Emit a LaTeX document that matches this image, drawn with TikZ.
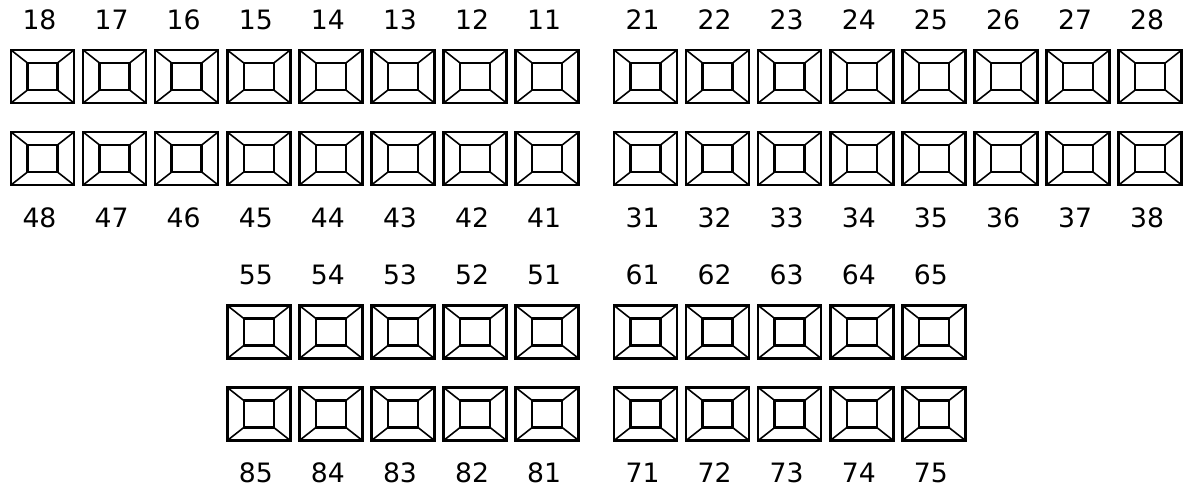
\documentclass[tikz,border=0pt]{standalone}
\usepackage{fontspec}
\setmainfont{DejaVu Sans}
\usetikzlibrary{positioning}

\tikzset{
  tooth/.style={draw,rectangle,line width=1.9pt,inner sep=0pt,
    minimum width=47.25pt,minimum height=39.75pt,
    path picture={
      \draw[line width=1.9pt,shift={(path picture bounding box.center)}]
        (-15,-13.5) rectangle (15,13.5);
      \draw[line width=1.2pt,shift={(path picture bounding box.center)}]
        (-31.5,-26.5) -- (-15,-13.5) (31.5,-26.5) -- (15,-13.5)
        (-31.5,26.5) -- (-15,13.5) (31.5,26.5) -- (15,13.5);
    }},
  num/.style={inner sep=0pt,font=\fontsize{20}{22}\selectfont}
}

\begin{document}
\begin{tikzpicture}[x=0.75pt,y=-0.75pt]
\useasboundingbox (0,0) rectangle (1186,489);
% upper jaw
\foreach \n [count=\i from 0] in {18,17,16,15,14,13,12,11} {
  \node[tooth] (t\n) at (42.5+72.1*\i,76.5) {};
  \node[num] (l\n) at (39.5+72.1*\i,19.5) {\n};
}
\foreach \n [count=\i from 0] in {21,22,23,24,25,26,27,28} {
  \node[tooth] (t\n) at (645.5+72.1*\i,76.5) {};
  \node[num] (l\n) at (642.5+72.1*\i,19.5) {\n};
}
% lower jaw
\foreach \n [count=\i from 0] in {48,47,46,45,44,43,42,41} {
  \node[tooth] (t\n) at (42.5+72.1*\i,158.5) {};
  \node[num] (l\n) at (39.5+72.1*\i,218) {\n};
}
\foreach \n [count=\i from 0] in {31,32,33,34,35,36,37,38} {
  \node[tooth] (t\n) at (645.5+72.1*\i,158.5) {};
  \node[num] (l\n) at (642.5+72.1*\i,218) {\n};
}
% milk teeth
\foreach \n [count=\i from 3] in {55,54,53,52,51} {
  \node[tooth] (t\n) at (42.5+72.1*\i,332) {};
  \node[num] (l\n) at (39.5+72.1*\i,275) {\n};
}
\foreach \n [count=\i from 0] in {61,62,63,64,65} {
  \node[tooth] (t\n) at (645.5+72.1*\i,332) {};
  \node[num] (l\n) at (642.5+72.1*\i,275) {\n};
}
\foreach \n [count=\i from 3] in {85,84,83,82,81} {
  \node[tooth] (t\n) at (42.5+72.1*\i,414) {};
  \node[num] (l\n) at (39.5+72.1*\i,473) {\n};
}
\foreach \n [count=\i from 0] in {71,72,73,74,75} {
  \node[tooth] (t\n) at (645.5+72.1*\i,414) {};
  \node[num] (l\n) at (642.5+72.1*\i,473) {\n};
}
\end{tikzpicture}
\end{document}
